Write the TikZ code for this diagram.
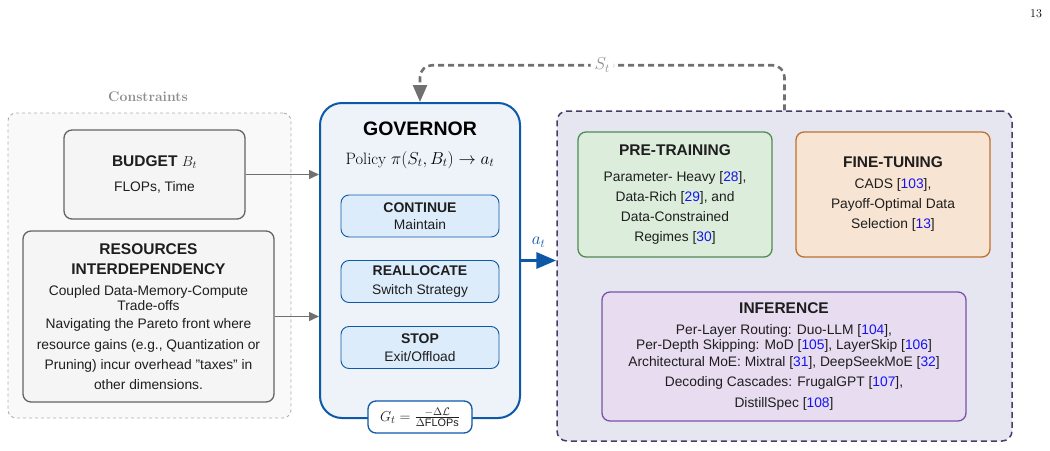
\documentclass[tikz,border=0pt]{standalone}
\usepackage{amsmath,amssymb}
\usepackage{fontspec}
\setsansfont{Liberation Sans}
\usepackage{xcolor}
\usepackage{tikz}
\usetikzlibrary{arrows.meta,calc,positioning}

\definecolor{govblue}{RGB}{14,88,168}
\definecolor{govfill}{RGB}{238,243,250}
\definecolor{actfill}{RGB}{220,236,251}
\definecolor{consgray}{RGB}{140,140,140}
\definecolor{consfill}{RGB}{249,249,249}
\definecolor{cardfill}{RGB}{245,245,245}
\definecolor{cardedge}{RGB}{100,100,100}
\definecolor{linkgray}{RGB}{112,112,112}
\definecolor{stagefill}{RGB}{230,230,240}
\definecolor{stageedge}{RGB}{74,58,106}
\definecolor{prefill}{RGB}{220,237,220}
\definecolor{preedge}{RGB}{80,140,80}
\definecolor{finefill}{RGB}{248,228,211}
\definecolor{fineedge}{RGB}{192,112,44}
\definecolor{inffill}{RGB}{232,220,241}
\definecolor{infedge}{RGB}{122,82,168}
\definecolor{citeblue}{RGB}{20,20,240}
\definecolor{textdark}{RGB}{30,30,30}

\newcommand{\refn}[1]{[\textcolor{citeblue}{#1}]}
\newcommand{\bodyfont}{\sffamily\fontsize{13.8}{20}\selectfont}
\newcommand{\headfont}{\sffamily\bfseries\fontsize{15.5}{20}\selectfont}

\tikzset{
  card/.style={draw, rounded corners=8pt, line width=1.3pt, align=center,
               inner sep=0pt, text=textdark, font=\bodyfont},
  actbox/.style={card, draw=govblue, fill=actfill, line width=0.9pt,
                 minimum width=158pt, minimum height=42pt},
  feedarrow/.style={draw=linkgray, line width=1.5pt, -{Triangle[length=10pt,width=9pt]}},
  statepath/.style={draw=linkgray, line width=2.6pt, dash pattern=on 6pt off 4pt,
                    rounded corners=12pt, -{Triangle[length=17pt,width=14pt]}},
  actarrow/.style={draw=govblue, line width=3.5pt, -{Triangle[length=20pt,width=16pt]}}
}

\begin{document}
\begin{tikzpicture}[x=1pt, y=-1pt, >=Latex]
\useasboundingbox (0,0) rectangle (1050,450);

% constraints side
\node[card, dashed, draw=consgray!70, fill=consfill, line width=0.9pt,
      minimum width=283pt, minimum height=305pt] (cons) at (149.5,265.5) {};
\node[font=\bfseries\fontsize{14}{16}\selectfont, text=consgray] (constitle) at (148,97) {Constraints};
\node[card, draw=cardedge, fill=cardfill, minimum width=181pt, minimum height=89pt] (budget) at (154.5,174.5)
  {{\headfont BUDGET $B_t$}\\[5pt] FLOPs, Time};
\node[card, draw=cardedge, fill=cardfill, minimum width=251pt, minimum height=171pt] (resources) at (148.5,316.5)
  {{\headfont RESOURCES}\\ {\headfont INTERDEPENDENCY}\\[1pt]
   Coupled Data-Memory-Compute\\[-5pt] Trade-offs\\[-2pt]
   Navigating the Pareto front where\\[1pt] resource gains (e.g., Quantization or\\
   Pruning) incur overhead "taxes" in\\ other dimensions.};

% governor
\node[card, draw=govblue, fill=govfill, line width=2pt, rounded corners=22pt,
      minimum width=200pt, minimum height=315pt] (gov) at (420,260.5) {};
\node[font=\sffamily\bfseries\fontsize{19.5}{22}\selectfont] (govtitle) at (420,129) {GOVERNOR};
\node[font=\fontsize{16.5}{20}\selectfont] (policy) at (420,160) {Policy $\pi(S_t,B_t)\rightarrow a_t$};
\foreach \nm/\yy/\hd/\sub/\gap in {cont/216/CONTINUE/Maintain/-3pt,
                                   realloc/281.5/REALLOCATE/Switch Strategy/-1pt,
                                   stop/347.5/STOP/{Exit/Offload}/-2pt}
  \node[actbox] (\nm) at (420,\yy) {{\sffamily\bfseries\fontsize{14}{17}\selectfont \hd}\\[\gap] \sub};
\node[card, draw=govblue, fill=white, minimum width=104pt, minimum height=32pt,
      font=\fontsize{15.5}{17}\selectfont] (gain) at (420,417)
  {$G_t=\frac{-\Delta\mathcal{L}}{\Delta\text{\sffamily FLOPs}}$};

% lifecycle stages
\node[card, dashed, draw=stageedge, fill=stagefill, line width=1.5pt, rounded corners=10pt,
      dash pattern=on 6pt off 4pt, minimum width=455pt, minimum height=330pt] (stages) at (784.5,276) {};
\node[card, draw=preedge, fill=prefill, minimum width=194pt, minimum height=125pt] (pre) at (675,194.5)
  {{\headfont PRE-TRAINING}\\[6pt] Parameter- Heavy \refn{28},\\ Data-Rich \refn{29}, and\\
   Data-Constrained\\ Regimes \refn{30}};
\node[card, draw=fineedge, fill=finefill, minimum width=194pt, minimum height=125pt] (fine) at (893,194.5)
  {{\headfont FINE-TUNING}\\[1pt] CADS \refn{103},\\ Payoff-Optimal Data\\ Selection \refn{13}};
\node[card, draw=infedge, fill=inffill, minimum width=364pt, minimum height=129pt] (inf) at (784,356.5)
  {{\headfont INFERENCE}\\[1pt] Per-Layer Routing: Duo-LLM \refn{104},\\[-5pt]
   Per-Depth Skipping: MoD \refn{105}, LayerSkip \refn{106}\\[-3pt]
   Architectural MoE: Mixtral \refn{31}, DeepSeekMoE \refn{32}\\
   Decoding Cascades: FrugalGPT \refn{107},\\[1pt] DistillSpec \refn{108}};

% connectors
\draw[feedarrow] (budget.east) -- (budget.east -| gov.west);
\draw[feedarrow] (resources.east) -- (resources.east -| gov.west);
\draw[actarrow] (gov.east) -- (gov.east -| stages.west)
  node[midway, above=8pt, text=govblue, font=\fontsize{17}{19}\selectfont] (atlabel) {$a_t$};
\draw[statepath] (stages.north) -- ++(0,-45) -|
  node[pos=0.25, fill=white, inner sep=4pt, text=consgray, font=\fontsize{18}{20}\selectfont] (stlabel) {$S_t$}
  (gov.north);

\node[font=\fontsize{12}{14}\selectfont] (pageno) at (1036,14) {13};
\end{tikzpicture}
\end{document}
